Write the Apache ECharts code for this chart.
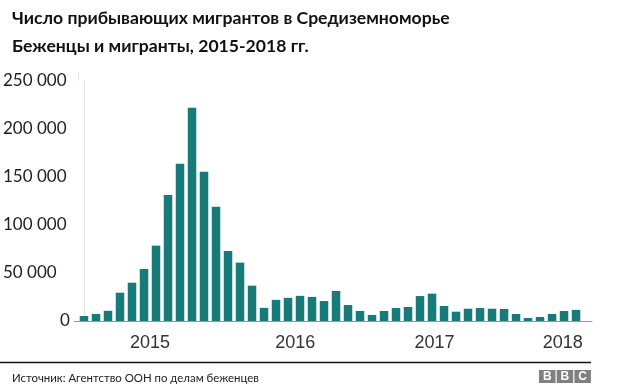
<!DOCTYPE html>
<html>
<head>
<meta charset="utf-8">
<script src="https://cdn.jsdelivr.net/npm/echarts@6/dist/echarts.min.js"></script>
<style>
html,body{margin:0;padding:0;background:#fff;}
#chart{width:624px;height:387px;}
</style>
</head>
<body>
<div id="chart"></div>
<script>
// Data
const months = [
  '2015-01','2015-02','2015-03','2015-04','2015-05','2015-06','2015-07','2015-08','2015-09','2015-10','2015-11','2015-12',
  '2016-01','2016-02','2016-03','2016-04','2016-05','2016-06','2016-07','2016-08','2016-09','2016-10','2016-11','2016-12',
  '2017-01','2017-02','2017-03','2017-04','2017-05','2017-06','2017-07','2017-08','2017-09','2017-10','2017-11','2017-12',
  '2018-01','2018-02','2018-03','2018-04','2018-05','2018-06'
];
const arrivals = [
  5200, 7300, 10600, 29500, 39900, 54200, 78500, 131300, 163900, 222200, 155500, 119100,
  72900, 60800, 36800, 13700, 22000, 24100, 26200, 25100, 20800, 31300, 16700, 10400,
  6300, 10400, 13500, 14600, 26000, 28500, 15600, 9700, 12800, 13500, 12800, 12500,
  7300, 3100, 4200, 7300, 10400, 11500
];
const yearLabels = ['2015', '2016', '2017', '2018'];
const yTicks = [0, 50000, 100000, 150000, 200000, 250000];

const titleText = 'Число прибывающих мигрантов в Средиземноморье';
const subtitleText = 'Беженцы и мигранты, 2015-2018 гг.';
const sourceText = 'Источник: Агентство ООН по делам беженцев';

// Layout (label placement along the month axis)
const yearLabelPos = [5.5, 17.6, 29.2, 39.9];

const chart = echarts.init(document.getElementById('chart'), null, {renderer: 'canvas'});

function fmtNum(v) {
  return String(v).replace(/\B(?=(\d{3})+(?!\d))/g, ' ');
}

const option = {
  animation: false,
  backgroundColor: '#ffffff',
  title: [
    {
      text: titleText, left: 7, top: 4,
      textStyle: {fontFamily: 'Lato', fontWeight: 'bold', fontSize: 17.6, color: '#111'}
    },
    {
      text: subtitleText, left: 7, top: 32,
      textStyle: {fontFamily: 'Lato', fontWeight: 'bold', fontSize: 17.6, color: '#111'}
    },
    {
      text: sourceText, left: 7, top: 368,
      textStyle: {fontFamily: 'Lato', fontWeight: 'normal', fontSize: 11.4, color: '#222'}
    }
  ],
  grid: {left: 78, top: 81, width: 514, height: 240, containLabel: false},
  xAxis: {
    type: 'value',
    min: -0.5,
    max: 42.33,
    axisLine: {show: true, onZero: false, lineStyle: {color: '#9a9a9a', width: 1}},
    axisTick: {show: false},
    splitLine: {show: false},
    axisLabel: {
      show: true,
      customValues: yearLabelPos,
      margin: 13,
      fontFamily: 'Liberation Sans',
      fontSize: 18,
      color: '#333',
      formatter: function (v) {
        let best = -1, bd = 1e9;
        yearLabelPos.forEach((p, i) => { const d = Math.abs(p - v); if (d < bd) { bd = d; best = i; } });
        return bd < 0.01 ? yearLabels[best] : '';
      }
    }
  },
  yAxis: {
    type: 'value',
    min: yTicks[0],
    max: yTicks[yTicks.length - 1],
    interval: yTicks[1] - yTicks[0],
    axisLine: {show: true, lineStyle: {color: '#e3e3e3'}},
    axisTick: {show: true, customValues: [0], length: 10, lineStyle: {color: '#9a9a9a'}},
    splitLine: {show: true, lineStyle: {color: '#dcdcdc', width: 1}},
    axisLabel: {
      align: 'left',
      margin: 75,
      fontFamily: 'Lato',
      fontSize: 17,
      color: '#222',
      formatter: function (v) { return v === 0 ? '{z|0}' : fmtNum(v); },
      rich: {z: {padding: [0, 0, 0, 57], fontFamily: 'Lato', fontSize: 17, color: '#222'}}
    }
  },
  series: [{
    type: 'bar',
    name: 'Прибывающие',
    data: arrivals.map((v, i) => [i, v]),
    barWidth: 8.5,
    itemStyle: {color: '#167b79'},
    silent: true
  }],
  graphic: [
    {type: 'line', shape: {x1: 78.5, y1: 73, x2: 78.5, y2: 81}, style: {stroke: '#e3e3e3', lineWidth: 1}},
    {type: 'line', shape: {x1: 0, y1: 362.5, x2: 591, y2: 362.5}, style: {stroke: '#111', lineWidth: 1.5}},
    {
      type: 'group', left: 539, top: 370,
      children: [
        {type: 'rect', shape: {x: 0, y: 0, width: 16.5, height: 13}, style: {fill: '#808080'}},
        {type: 'rect', shape: {x: 17.7, y: 0, width: 16.5, height: 13}, style: {fill: '#808080'}},
        {type: 'rect', shape: {x: 35.4, y: 0, width: 16.5, height: 13}, style: {fill: '#808080'}},
        {type: 'text', x: 8.25, y: 7, style: {text: 'B', fill: '#fff', font: 'bold 12px Liberation Sans', textAlign: 'center', textVerticalAlign: 'middle'}},
        {type: 'text', x: 25.95, y: 7, style: {text: 'B', fill: '#fff', font: 'bold 12px Liberation Sans', textAlign: 'center', textVerticalAlign: 'middle'}},
        {type: 'text', x: 43.65, y: 7, style: {text: 'C', fill: '#fff', font: 'bold 12px Liberation Sans', textAlign: 'center', textVerticalAlign: 'middle'}}
      ]
    }
  ]
};
chart.setOption(option);
</script>
</body>
</html>
